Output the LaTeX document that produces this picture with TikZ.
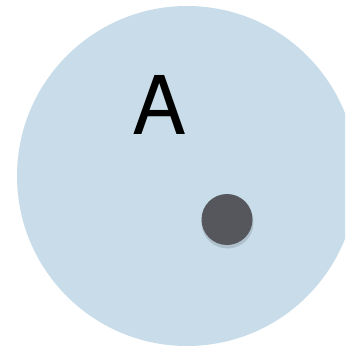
\documentclass[tikz,border=0pt]{standalone}
\usepackage{fontspec}
\setmainfont{TeX Gyre Heros}
\definecolor{bluefill}{RGB}{200,221,233}
\definecolor{dotgray}{RGB}{85,87,92}
\definecolor{shadowgray}{RGB}{150,165,175}
\begin{document}
\begin{tikzpicture}[x=1pt,y=-1pt,
  bigdisc/.style={circle,fill=bluefill,draw=none,minimum size=340pt,inner sep=0pt},
  dotstyle/.style={circle,fill=dotgray,draw=none,minimum size=51pt,inner sep=0pt},
  label/.style={font=\fontsize{81}{81}\selectfont,text=black,inner sep=0pt}]
\useasboundingbox (0,0) rectangle (345,347);
\begin{scope}
\clip (0,0) rectangle (345,347);
\node[bigdisc] (disc) at (187,176) {};
\end{scope}
\node[label] (A) at (159.5,105) {A};
\fill[shadowgray,opacity=0.5] (227.5,222.5) circle (26pt);
\node[dotstyle] (dot) at (227,219.5) {};
\end{tikzpicture}
\end{document}
